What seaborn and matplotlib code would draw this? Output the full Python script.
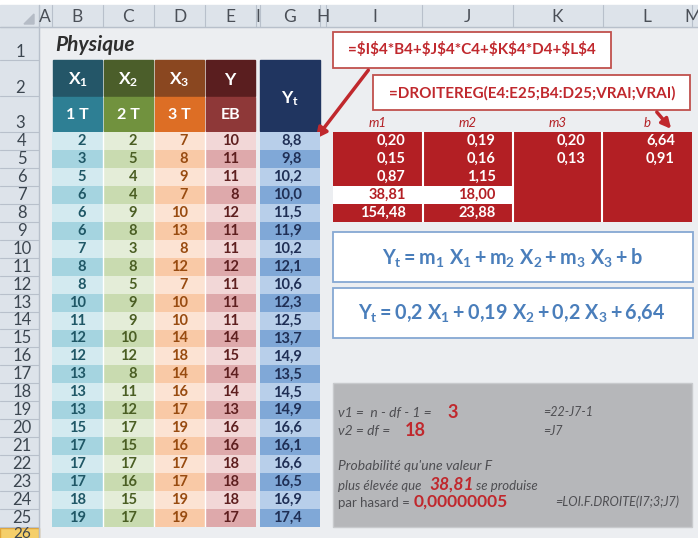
import numpy as np
import matplotlib.pyplot as plt
from matplotlib.colors import ListedColormap
from matplotlib.patches import Rectangle, FancyArrowPatch, Polygon
import seaborn as sns

# Physique : notes des trois trimestres (X1, X2, X3), examen blanc (Y), estimation Yt
x1 = [2, 3, 5, 6, 6, 6, 7, 8, 8, 10, 11, 12, 12, 13, 13, 13, 15, 17, 17, 17, 18, 19]
x2 = [2, 5, 4, 4, 9, 8, 3, 8, 5, 9, 9, 10, 12, 8, 11, 12, 17, 15, 17, 16, 15, 17]
x3 = [7, 8, 9, 7, 10, 13, 8, 12, 7, 10, 10, 14, 18, 14, 16, 17, 19, 16, 17, 17, 19, 19]
y = [10, 11, 11, 8, 12, 11, 11, 12, 11, 11, 11, 14, 15, 14, 14, 13, 16, 16, 18, 18, 18, 17]
yt = [8.8, 9.8, 10.2, 10.0, 11.5, 11.9, 10.2, 12.1, 10.6, 12.3, 12.5, 13.7,
      14.9, 13.5, 14.5, 14.9, 16.6, 16.1, 16.6, 16.5, 16.9, 17.4]

# sortie de DROITEREG (colonnes m1, m2, m3, b)
coef_labels = ['m1', 'm2', 'm3', 'b']
droitereg = [
    [0.20, 0.19, 0.20, 6.64],
    [0.15, 0.16, 0.13, 0.91],
    [0.87, 1.15, None, None],
    [38.81, 18.00, None, None],
    [154.48, 23.88, None, None],
]
col_letters = ['A', 'B', 'C', 'D', 'E', 'I', 'G', 'H', 'I', 'J', 'K', 'L', 'M']

sns.set_style("white")
plt.rcParams['font.family'] = ['Lato', 'DejaVu Sans']
plt.rcParams['mathtext.fontset'] = 'custom'
plt.rcParams['mathtext.rm'] = 'Lato:bold'
plt.rcParams['mathtext.it'] = 'Lato:bold'
plt.rcParams['mathtext.bf'] = 'Lato:bold'

W, H = 698, 538
fig = plt.figure(figsize=(W / 100, H / 100), dpi=100)
fig.patch.set_facecolor('#ECEEF1')


def fr(v, d=2):
    return f"{v:.{d}f}".replace('.', ',')


def px_axes(x0, y0, x1_, y1_):
    return fig.add_axes([x0 / W, 1 - y1_ / H, (x1_ - x0) / W, (y1_ - y0) / H])


# fond : feuille de calcul en coordonnées pixel
bg = fig.add_axes([0, 0, 1, 1])
bg.set_xlim(0, W)
bg.set_ylim(H, 0)
bg.axis('off')
grid_c = '#B8C0CB'
bg.add_patch(Rectangle((0, 0), W, 5, color='white'))
bg.add_patch(Rectangle((0, 5), W, 22, color='#DDE3EA'))
bg.add_patch(Rectangle((0, 27), 39, H, color='#DDE3EA'))
bg.add_patch(Polygon([[34, 24], [34, 14], [24, 24]], color='#B5BCC6'))
bg.plot([0, W], [27, 27], color=grid_c, lw=1)
bg.plot([39, 39], [5, H], color=grid_c, lw=1)
col_sep = [52, 103, 154, 205, 256, 260, 320, 326, 422, 513, 603, 692]
for xs in col_sep:
    bg.plot([xs, xs], [5, 27], color=grid_c, lw=0.8)
col_cent = [45, 77, 128, 180, 230, 258, 290, 323, 375, 467, 557, 647, 693]
for lt, xc in zip(col_letters, col_cent):
    bg.text(xc, 17, lt, ha='center', va='center', fontsize=12.5, color='#4A4F57')

row_bounds = [27, 60, 96, 132] + [132 + 17.95 * k for k in range(1, 23)]
for yb in row_bounds:
    bg.plot([0, 39], [yb, yb], color=grid_c, lw=0.8)
for r, yb in zip([1, 2, 3], [57, 93, 128]):
    bg.text(20, yb, str(r), ha='center', va='baseline', fontsize=12, color='#3C4650')
for k in range(22):
    bg.text(22, 132 + 17.95 * (k + 0.5), str(k + 4), ha='center', va='center',
            fontsize=12, color='#3C4650')
bg.add_patch(Rectangle((0, 528), 39, 12, facecolor='#F5CF6A', edgecolor='#E0A53A', lw=1))
bg.text(22, 534, '26', ha='center', va='center', fontsize=11, color='#3C4650')

bg.text(55, 45, 'Physique', fontsize=15, fontweight='bold', fontstyle='italic',
        color='#2E2E2E', va='center')

# en-têtes
head2 = ['#245668', '#4B5E2A', '#8A4720', '#5A1E1F']
head3 = ['#2E7F94', '#71923E', '#DD6E25', '#8E3838']
lab2 = [r'$X_1$', r'$X_2$', r'$X_3$', r'$Y$']
lab3 = ['1 T', '2 T', '3 T', 'EB']
edges = [52, 103, 154, 205, 256]
for j in range(4):
    xa, xb = edges[j] + 1, edges[j + 1] - 1
    bg.add_patch(Rectangle((xa, 60), xb - xa, 36, color=head2[j]))
    bg.add_patch(Rectangle((xa, 97), xb - xa, 34, color=head3[j]))
    bg.text((xa + xb) / 2, 80, lab2[j], ha='center', va='center', color='white', fontsize=12.5)
    bg.text((xa + xb) / 2, 115, lab3[j], ha='center', va='center', color='white',
            fontsize=11.5, fontweight='bold')
bg.add_patch(Rectangle((260, 60), 60, 71, color='#203560'))
bg.text(290, 99, r'$Y_t$', ha='center', va='center', color='white', fontsize=12.5)

# tableau principal B4:E25
light = ['#D3EAF0', '#E4EDD8', '#FCE3D3', '#F2D7D7']
dark = ['#A5D4E0', '#C9DBB0', '#F9C9A6', '#DEA9AB']
txt_c = ['#1F5766', '#4A5E23', '#984B10', '#5E1F1F']
cols = np.array([x1, x2, x3, y]).T
n = len(x1)
idx = np.array([[2 * j + (i % 2) for j in range(4)] for i in range(n)])
pal = ListedColormap([c for pair in zip(light, dark) for c in pair])
ax = px_axes(52, 132, 256, 527)
sns.heatmap(idx, cmap=pal, vmin=-0.5, vmax=7.5, cbar=False, ax=ax,
            xticklabels=False, yticklabels=False)
for j in range(1, 4):
    ax.axvline(j, color='white', lw=1)
for i in range(n):
    for j in range(4):
        ax.text(j + 0.67, i + 0.5, str(cols[i, j]), ha='right', va='center',
                fontsize=10.5, fontweight='bold', color=txt_c[j])

# colonne Yt
axg = px_axes(260, 132, 320, 527)
sns.heatmap(np.array([[i % 2] for i in range(n)]), cmap=ListedColormap(['#B8CFEA', '#80A8D7']),
            vmin=-0.5, vmax=1.5, cbar=False, ax=axg, xticklabels=False, yticklabels=False)
for i, v in enumerate(yt):
    axg.text(0.7, i + 0.5, fr(v, 1), ha='right', va='center', fontsize=10.5,
             fontweight='bold', color='#1F2F55')

# résultats DROITEREG
red = '#B31F24'
mask_white = np.array([[1 if (i == 3 and j < 2) else 0 for j in range(4)] for i in range(5)])
axr = px_axes(333, 132, 692, 222)
sns.heatmap(mask_white, cmap=ListedColormap([red, 'white']), vmin=-0.5, vmax=1.5, cbar=False,
            ax=axr, xticklabels=coef_labels, yticklabels=False)
axr.xaxis.tick_top()
axr.tick_params(axis='x', length=0, pad=2)
for t in axr.get_xticklabels():
    t.set_fontstyle('italic')
    t.set_color(red)
    t.set_fontsize(9.5)
for j in range(1, 4):
    axr.axvline(j, color='white', lw=1.5)
for i, row in enumerate(droitereg):
    for j, v in enumerate(row):
        if v is None:
            continue
        white_cell = mask_white[i, j] == 1
        axr.text(j + 0.81, i + 0.5, fr(v), ha='right', va='center', fontsize=10.5,
                 fontweight='bold', color=red if white_cell else 'white')

# boîtes de formules
bg.add_patch(Rectangle((333, 32), 278, 36, facecolor='white', edgecolor='#C0504D', lw=1.3))
bg.text(472, 50, r'=\$I\$4*B4+\$J\$4*C4+\$K\$4*D4+\$L\$4', ha='center', va='center',
        fontsize=11, fontweight='bold', color='#C0282D')
bg.add_patch(Rectangle((373, 75), 317, 35, facecolor='white', edgecolor='#C0504D', lw=1.3))
bg.text(532, 93, '=DROITEREG(E4:E25;B4:D25;VRAI;VRAI)', ha='center', va='center',
        fontsize=11, fontweight='bold', color='#C0282D')
bg.add_patch(FancyArrowPatch((370, 68), (314, 141), arrowstyle='-|>', mutation_scale=16,
                             color='#C0282D', lw=2.5))
bg.add_patch(FancyArrowPatch((655, 110), (673, 131), arrowstyle='-|>', mutation_scale=14,
                             color='#C0282D', lw=2.5))

blue = '#4A7EBB'
bg.add_patch(Rectangle((333, 232), 360, 50, facecolor='white', edgecolor='#86A8D3', lw=1.3))
bg.text(512, 258, r'$Y_t = m_1\ X_1 + m_2\ X_2 + m_3\ X_3 + b$', ha='center', va='center',
        fontsize=14.2, color=blue)
bg.add_patch(Rectangle((333, 288), 360, 50, facecolor='white', edgecolor='#86A8D3', lw=1.3))
bg.text(512, 313, r'$Y_t = 0{,}2\ X_1 + 0{,}19\ X_2 + 0{,}2\ X_3 + 6{,}64$', ha='center',
        va='center', fontsize=14.2, color=blue)

# encadré gris du test F
bg.add_patch(Rectangle((333, 383), 359, 144, facecolor='#B6B7BA', edgecolor='#C8CACD', lw=1))
gtxt = '#4E4E52'
bg.text(338, 413, 'ν1 =  n - df - 1 = ', fontsize=10, fontstyle='italic', color=gtxt, va='center')
bg.text(447, 412, '3', fontsize=13, fontweight='bold', color='#C0282D', va='center')
bg.text(338, 431, 'ν2 = df =', fontsize=10, fontstyle='italic', color=gtxt, va='center')
bg.text(405, 430, '18', fontsize=13, fontweight='bold', color='#C0282D', va='center')
bg.text(543, 412, '=22-J7-1', fontsize=9, fontstyle='italic', color=gtxt, va='center')
bg.text(543, 431, '=J7', fontsize=9, fontstyle='italic', color=gtxt, va='center')
bg.text(338, 466, "Probabilité qu'une valeur F", fontsize=10, fontstyle='italic', color=gtxt,
        va='center')
bg.text(338, 486, 'plus élevée que', fontsize=9.5, fontstyle='italic', color=gtxt, va='center')
bg.text(429, 485, '38,81', fontsize=12.5, fontweight='bold', fontstyle='italic', color='#C0282D',
        va='center')
bg.text(476, 486, 'se produise', fontsize=9.5, fontstyle='italic', color=gtxt, va='center')
bg.text(338, 503, 'par hasard =', fontsize=9.5, color=gtxt, va='center')
bg.text(414, 502, '0,00000005', fontsize=12.5, fontweight='bold', color='#C0282D', va='center')
bg.text(555, 502, '=LOI.F.DROITE(I7;3;J7)', fontsize=9, fontstyle='italic', color=gtxt,
        va='center')

plt.savefig('out.png', dpi=100, facecolor=fig.get_facecolor())
